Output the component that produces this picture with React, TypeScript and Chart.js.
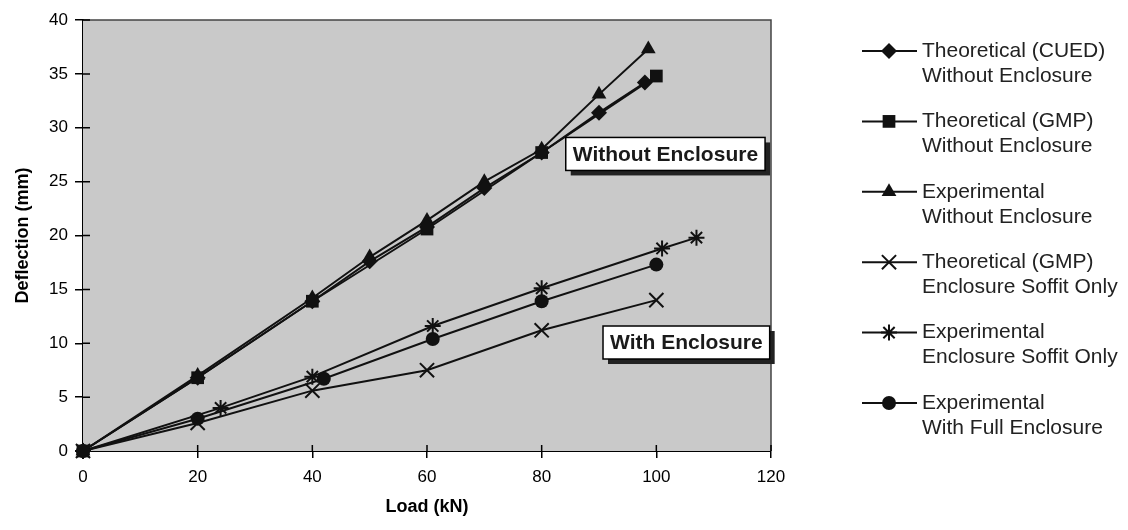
import React, { useEffect, useRef } from 'react';
import { Chart, registerables } from 'chart.js';

Chart.register(...registerables);

const FONT = '"Liberation Sans", Arial, Helvetica, sans-serif';

// ---- data (Load kN -> Deflection mm) ----
const cuedLoad = [0, 20, 40, 50, 60, 70, 80, 90, 98];
const cuedDefl = [0, 6.8, 13.9, 17.6, 20.8, 24.4, 27.7, 31.4, 34.2];

const gmpLoad = [0, 20, 40, 60, 80, 100];
const gmpDefl = [0, 6.8, 13.9, 20.6, 27.7, 34.8];

const expLoad = [0, 20, 40, 50, 60, 70, 80, 90, 98.6];
const expDefl = [0, 7.0, 14.2, 18.0, 21.4, 25.0, 28.0, 33.1, 37.3];

const gmpSoffitLoad = [0, 20, 40, 60, 80, 100];
const gmpSoffitDefl = [0, 2.6, 5.6, 7.5, 11.2, 14.0];

const expSoffitLoad = [0, 24, 40, 61, 80, 101, 107];
const expSoffitDefl = [0, 4.0, 6.9, 11.6, 15.1, 18.8, 19.8];

const expFullLoad = [0, 20, 42, 61, 80, 100];
const expFullDefl = [0, 3.0, 6.7, 10.4, 13.9, 17.3];

const seriesLabels = [
  ['Theoretical (CUED)', 'Without Enclosure'],
  ['Theoretical (GMP)', 'Without Enclosure'],
  ['Experimental', 'Without Enclosure'],
  ['Theoretical (GMP)', 'Enclosure Soffit Only'],
  ['Experimental', 'Enclosure Soffit Only'],
  ['Experimental', 'With Full Enclosure'],
];
const seriesMarkers = ['rectRot', 'rect', 'triangle', 'crossRot', 'star', 'circle'];
const markerSizes = [8, 9, 8.5, 10, 8, 7];

const xAxisTitle = 'Load (kN)';
const yAxisTitle = 'Deflection (mm)';

// annotation labels: [text, load, deflection] (top-left corner in data units)
const noteTexts = ['Without Enclosure', 'With Enclosure'];
const noteLoads = [84.2, 90.7];
const noteDefls = [29.1, 11.6];

function pts(xs: number[], ys: number[]) {
  return xs.map((x, i) => ({ x, y: ys[i] }));
}

function drawMarker(ctx: CanvasRenderingContext2D, style: string, x: number, y: number, r: number) {
  ctx.save();
  ctx.fillStyle = '#111';
  ctx.strokeStyle = '#111';
  ctx.lineWidth = 2;
  ctx.beginPath();
  const c = r * Math.SQRT1_2;
  switch (style) {
    case 'rectRot':
      ctx.moveTo(x - r, y);
      ctx.lineTo(x, y - r);
      ctx.lineTo(x + r, y);
      ctx.lineTo(x, y + r);
      ctx.closePath();
      ctx.fill();
      break;
    case 'rect':
      ctx.rect(x - c, y - c, 2 * c, 2 * c);
      ctx.fill();
      break;
    case 'triangle': {
      let a = 0;
      ctx.moveTo(x + Math.sin(a) * r, y - Math.cos(a) * r);
      a += (2 * Math.PI) / 3;
      ctx.lineTo(x + Math.sin(a) * r, y - Math.cos(a) * r);
      a += (2 * Math.PI) / 3;
      ctx.lineTo(x + Math.sin(a) * r, y - Math.cos(a) * r);
      ctx.closePath();
      ctx.fill();
      break;
    }
    case 'crossRot':
      ctx.moveTo(x - c, y - c);
      ctx.lineTo(x + c, y + c);
      ctx.moveTo(x + c, y - c);
      ctx.lineTo(x - c, y + c);
      ctx.stroke();
      break;
    case 'star':
      ctx.moveTo(x - c, y - c);
      ctx.lineTo(x + c, y + c);
      ctx.moveTo(x + c, y - c);
      ctx.lineTo(x - c, y + c);
      ctx.moveTo(x, y - r);
      ctx.lineTo(x, y + r);
      ctx.moveTo(x - r, y);
      ctx.lineTo(x + r, y);
      ctx.stroke();
      break;
    default:
      ctx.arc(x, y, r, 0, Math.PI * 2);
      ctx.fill();
  }
  ctx.restore();
}

const decorPlugin = {
  id: 'decor',
  beforeDatasetsDraw(chart: any) {
    const { ctx, chartArea: a } = chart;
    ctx.save();
    ctx.fillStyle = '#c9c9c9';
    ctx.fillRect(a.left, a.top, a.right - a.left, a.bottom - a.top);
    ctx.strokeStyle = '#444';
    ctx.lineWidth = 1.5;
    ctx.beginPath();
    ctx.moveTo(a.left, a.top);
    ctx.lineTo(a.right, a.top);
    ctx.lineTo(a.right, a.bottom);
    ctx.stroke();
    // inner tick parts
    ctx.strokeStyle = '#000';
    ctx.lineWidth = 1.5;
    const xs = chart.scales.x;
    const ys = chart.scales.y;
    ctx.beginPath();
    xs.ticks.forEach((t: any) => {
      const px = xs.getPixelForValue(t.value);
      ctx.moveTo(px, a.bottom);
      ctx.lineTo(px, a.bottom - 6);
    });
    ys.ticks.forEach((t: any) => {
      const py = ys.getPixelForValue(t.value);
      ctx.moveTo(a.left, py);
      ctx.lineTo(a.left + 7, py);
    });
    ctx.stroke();
    ctx.restore();
  },
  afterDatasetsDraw(chart: any) {
    const { ctx } = chart;
    const xs = chart.scales.x;
    const ys = chart.scales.y;
    ctx.save();
    ctx.font = `bold 21px ${FONT}`;
    ctx.textBaseline = 'middle';
    noteTexts.forEach((txt, i) => {
      const left = xs.getPixelForValue(noteLoads[i]);
      const top = ys.getPixelForValue(noteDefls[i]);
      const w = ctx.measureText(txt).width + 14;
      const h = 33;
      ctx.fillStyle = '#222';
      ctx.fillRect(left + 5, top + 5, w, h);
      ctx.fillStyle = '#fff';
      ctx.fillRect(left, top, w, h);
      ctx.strokeStyle = '#000';
      ctx.lineWidth = 1.5;
      ctx.strokeRect(left, top, w, h);
      ctx.fillStyle = '#1a1a1a';
      ctx.textAlign = 'left';
      ctx.fillText(txt, left + 7, top + h / 2 + 1);
    });
    ctx.restore();
  },
  afterDraw(chart: any) {
    const { ctx, chartArea: a } = chart;
    ctx.save();
    ctx.font = `21px ${FONT}`;
    ctx.textBaseline = 'middle';
    ctx.textAlign = 'left';
    const x0 = a.right + 91;
    seriesLabels.forEach((lines, i) => {
      const y = a.top + 31 + i * 70.4;
      ctx.strokeStyle = '#111';
      ctx.lineWidth = 2;
      ctx.beginPath();
      ctx.moveTo(x0, y);
      ctx.lineTo(x0 + 55, y);
      ctx.stroke();
      drawMarker(ctx, seriesMarkers[i], x0 + 27, y, markerSizes[i]);
      ctx.fillStyle = '#222';
      ctx.fillText(lines[0], x0 + 60, y);
      ctx.fillText(lines[1], x0 + 60, y + 25);
    });
    ctx.restore();
  },
};

export default function App() {
  const ref = useRef<HTMLCanvasElement>(null);
  useEffect(() => {
    const data = [
      pts(cuedLoad, cuedDefl),
      pts(gmpLoad, gmpDefl),
      pts(expLoad, expDefl),
      pts(gmpSoffitLoad, gmpSoffitDefl),
      pts(expSoffitLoad, expSoffitDefl),
      pts(expFullLoad, expFullDefl),
    ];
    const datasets = data.map((d, i) => ({
      label: seriesLabels[i].join(' '),
      data: d,
      borderColor: '#111',
      backgroundColor: '#111',
      borderWidth: 2,
      pointStyle: seriesMarkers[i] as any,
      pointRadius: markerSizes[i],
      pointBorderWidth: seriesMarkers[i] === 'crossRot' || seriesMarkers[i] === 'star' ? 2 : 0,
      pointBackgroundColor: '#111',
      pointBorderColor: '#111',
      tension: 0,
      clip: false as any,
    }));
    const tickFont = { family: FONT, size: 17, lineHeight: 1 };
    const titleFont = { family: FONT, size: 18, weight: 'bold' as const };
    const chart = new Chart(ref.current!, {
      type: 'line',
      data: { datasets },
      plugins: [decorPlugin],
      options: {
        animation: false,
        responsive: true,
        maintainAspectRatio: false,
        layout: { padding: { top: 7, right: 349, left: 0, bottom: 0 } },
        plugins: { legend: { display: false }, tooltip: { enabled: false } },
        scales: {
          x: {
            type: 'linear',
            min: 0,
            max: 120,
            ticks: { stepSize: 20, color: '#000', font: tickFont, padding: 11 },
            grid: { drawOnChartArea: false, color: '#000', lineWidth: 1.5, tickLength: 7 },
            border: { color: '#000', width: 2 },
            title: { display: true, text: xAxisTitle, color: '#000', font: titleFont, padding: { top: 2, bottom: 4 } },
            afterFit: (s: any) => { s.height = 71; s.paddingLeft = 0; s.paddingRight = 0; },
          },
          y: {
            type: 'linear',
            min: 0,
            max: 40,
            ticks: { stepSize: 5, color: '#000', font: tickFont, padding: 7 },
            grid: { drawOnChartArea: false, color: '#000', lineWidth: 1.5, tickLength: 8 },
            border: { color: '#000', width: 2 },
            title: { display: true, text: yAxisTitle, color: '#000', font: titleFont, padding: { top: 4, bottom: 4 } },
            afterFit: (s: any) => { s.width = 75; s.paddingTop = 0; s.paddingBottom = 0; },
          },
        },
      },
    });
    return () => chart.destroy();
  }, []);
  return (
    <div style={{ width: 1112, height: 514, position: 'relative' }}>
      <canvas ref={ref} />
    </div>
  );
}
